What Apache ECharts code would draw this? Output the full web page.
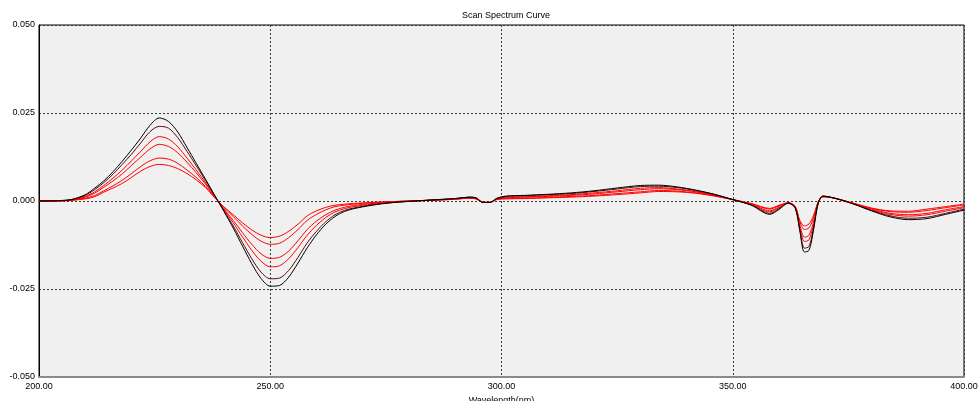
<!DOCTYPE html>
<html>
<head>
<meta charset="utf-8">
<title>Scan Spectrum Curve</title>
<script src="https://cdn.jsdelivr.net/npm/echarts@6/dist/echarts.min.js"></script>
<style>
  html, body { margin: 0; padding: 0; background: #fff; }
  #chart { width: 979px; height: 401px; }
</style>
</head>
<body>
<div id="chart"></div>
<script>
// wavelength points (nm), denser around the sharp features
const wavelength = [200, 204, 207, 210, 212, 214, 216, 218, 220, 222, 224, 226, 228, 230, 232, 234, 236, 238,
  240, 242, 244, 246, 248, 250, 252, 254, 256, 258, 260, 262, 264, 266, 268, 272, 276, 280, 285, 290, 293, 294.5,
  296, 297.5, 299, 301, 305, 310, 315, 320, 325, 330, 334, 338, 342, 346, 350, 354, 358, 360, 362, 363.5, 364.5,
  365.5, 366.5, 367.5, 368.5, 369.5, 372, 376, 380, 384, 388, 392, 396, 400]

// six scans, from the largest amplitude (black) to the smallest (red)
const scan1 = [0, 0.0001, 0.0004, 0.0018, 0.0036, 0.0057, 0.0083, 0.0113, 0.0145, 0.0179, 0.0215, 0.0236, 0.0226,
  0.0196, 0.0152, 0.0107, 0.0062, 0.0016, -0.0030, -0.0077, -0.0128, -0.0178, -0.0220, -0.0242, -0.0240, -0.0216,
  -0.0176, -0.0133, -0.0096, -0.0066, -0.0044, -0.0030, -0.0022, -0.0012, -0.0005, -0.0001, 0.0003, 0.0007, 0.0011,
  0.0009, -0.0004, -0.0004, 0.0008, 0.0014, 0.0016, 0.0019, 0.0023, 0.0029, 0.0037, 0.0044, 0.0045, 0.0040, 0.0031,
  0.0019, 0.0004, -0.0012, -0.0038, -0.0024, -0.0006, -0.0020, -0.0085, -0.0145, -0.0140, -0.0080, -0.0005, 0.0014,
  0.0008, -0.0008, -0.0028, -0.0045, -0.0053, -0.0050, -0.0038, -0.0026]
const scan2 = [0, 0.0001, 0.0004, 0.0016, 0.0032, 0.0052, 0.0076, 0.0104, 0.0133, 0.0165, 0.0197, 0.0212, 0.0207,
  0.0180, 0.0141, 0.0100, 0.0058, 0.0015, -0.0028, -0.0071, -0.0118, -0.0164, -0.0202, -0.0221, -0.0219, -0.0197,
  -0.0160, -0.0119, -0.0086, -0.0059, -0.0039, -0.0027, -0.0020, -0.0011, -0.0005, -0.0001, 0.0003, 0.0007, 0.0011,
  0.0009, -0.0004, -0.0004, 0.0007, 0.0013, 0.0015, 0.0018, 0.0021, 0.0027, 0.0034, 0.0041, 0.0042, 0.0038, 0.0030,
  0.0019, 0.0004, -0.0011, -0.0035, -0.0022, -0.0006, -0.0019, -0.0081, -0.0134, -0.0129, -0.0074, -0.0005, 0.0014,
  0.0008, -0.0008, -0.0027, -0.0042, -0.0049, -0.0046, -0.0035, -0.0023]
const scan3 = [0, 0.0001, 0.0003, 0.0013, 0.0026, 0.0044, 0.0065, 0.0088, 0.0114, 0.0141, 0.0168, 0.0183, 0.0176,
  0.0154, 0.0122, 0.0088, 0.0052, 0.0013, -0.0025, -0.0062, -0.0102, -0.0140, -0.0171, -0.0187, -0.0184, -0.0164,
  -0.0132, -0.0097, -0.0069, -0.0047, -0.0031, -0.0022, -0.0016, -0.0009, -0.0004, -0.0001, 0.0003, 0.0006, 0.0010,
  0.0008, -0.0004, -0.0004, 0.0006, 0.0011, 0.0012, 0.0015, 0.0018, 0.0023, 0.0029, 0.0036, 0.0038, 0.0034, 0.0027,
  0.0017, 0.0004, -0.0010, -0.0031, -0.0019, -0.0006, -0.0018, -0.0073, -0.0115, -0.0110, -0.0064, -0.0004, 0.0013,
  0.0008, -0.0007, -0.0025, -0.0038, -0.0043, -0.0039, -0.0029, -0.0019]
const scan4 = [0, 0, 0.0003, 0.0011, 0.0022, 0.0039, 0.0057, 0.0077, 0.0101, 0.0125, 0.0148, 0.0161, 0.0155,
  0.0137, 0.0110, 0.0080, 0.0048, 0.0012, -0.0023, -0.0055, -0.0090, -0.0123, -0.0150, -0.0163, -0.0160, -0.0142,
  -0.0113, -0.0081, -0.0057, -0.0039, -0.0026, -0.0018, -0.0013, -0.0007, -0.0003, 0, 0.0002, 0.0006, 0.0009,
  0.0007, -0.0004, -0.0004, 0.0006, 0.0009, 0.0011, 0.0013, 0.0016, 0.0020, 0.0026, 0.0032, 0.0035, 0.0032, 0.0026,
  0.0016, 0.0004, -0.0009, -0.0028, -0.0017, -0.0005, -0.0017, -0.0068, -0.0103, -0.0097, -0.0057, -0.0003, 0.0013,
  0.0008, -0.0007, -0.0023, -0.0035, -0.0039, -0.0035, -0.0025, -0.0016]
const scan5 = [0, 0, 0.0002, 0.0008, 0.0015, 0.0029, 0.0043, 0.0059, 0.0078, 0.0098, 0.0114, 0.0122, 0.0119,
  0.0107, 0.0088, 0.0067, 0.0041, 0.0010, -0.0019, -0.0044, -0.0071, -0.0095, -0.0114, -0.0123, -0.0120, -0.0104,
  -0.0081, -0.0055, -0.0038, -0.0025, -0.0016, -0.0012, -0.0009, -0.0005, -0.0002, 0, 0.0002, 0.0005, 0.0008,
  0.0006, -0.0004, -0.0004, 0.0005, 0.0007, 0.0008, 0.0010, 0.0013, 0.0016, 0.0021, 0.0026, 0.0030, 0.0028, 0.0023,
  0.0015, 0.0004, -0.0008, -0.0023, -0.0014, -0.0005, -0.0016, -0.0059, -0.0081, -0.0076, -0.0046, -0.0002, 0.0012,
  0.0008, -0.0006, -0.0021, -0.0030, -0.0032, -0.0027, -0.0019, -0.0011]
const scan6 = [0, 0, 0.0002, 0.0006, 0.0012, 0.0025, 0.0037, 0.0050, 0.0067, 0.0085, 0.0098, 0.0104, 0.0101,
  0.0092, 0.0078, 0.0060, 0.0038, 0.0009, -0.0017, -0.0039, -0.0062, -0.0082, -0.0097, -0.0104, -0.0100, -0.0086,
  -0.0066, -0.0042, -0.0028, -0.0018, -0.0012, -0.0009, -0.0007, -0.0004, -0.0002, 0, 0.0002, 0.0005, 0.0008,
  0.0006, -0.0004, -0.0004, 0.0004, 0.0006, 0.0007, 0.0009, 0.0011, 0.0014, 0.0018, 0.0023, 0.0027, 0.0026, 0.0022,
  0.0014, 0.0004, -0.0007, -0.0021, -0.0012, -0.0005, -0.0015, -0.0055, -0.0071, -0.0065, -0.0040, -0.0002, 0.0012,
  0.0008, -0.0006, -0.0020, -0.0028, -0.0029, -0.0023, -0.0016, -0.0009]

const scans = [scan1, scan2, scan3, scan4, scan5, scan6]
const scanColors = ['#000000', '#5a0a0a', '#ff0000', '#ff0000', '#ff0000', '#ff0000']

const chart = echarts.init(document.getElementById('chart'), null, { renderer: 'canvas' })

const labelFont = {
  fontFamily: 'Liberation Sans, Arial, sans-serif',
  fontSize: 9,
  color: '#000',
}

const option = {
  animation: false,
  backgroundColor: '#ffffff',
  title: {
    text: 'Scan Spectrum Curve',
    left: 501,
    textAlign: 'center',
    top: 6,
    textStyle: {
      fontFamily: 'Liberation Sans, Arial, sans-serif',
      fontSize: 9,
      fontWeight: 'normal',
      color: '#000',
    },
  },
  grid: {
    left: 39,
    right: 15,
    top: 25,
    bottom: 24,
    outerBoundsMode: 'none',
    containLabel: false,
    show: true,
    backgroundColor: '#f0f0f0',
    borderColor: '#000',
    borderWidth: 1,
  },
  xAxis: {
    type: 'value',
    min: 200,
    max: 400,
    interval: 50,
    name: 'Wavelength(nm)',
    nameLocation: 'middle',
    nameGap: 17,
    nameTextStyle: labelFont,
    axisLine: { show: true, onZero: false, lineStyle: { color: '#8a8a8a', width: 2 } },
    axisTick: { show: false },
    axisLabel: {
      ...labelFont,
      margin: 5,
      formatter: (v) => v.toFixed(2),
    },
    splitLine: {
      show: true,
      lineStyle: { color: '#3c3c3c', type: [2, 2], width: 1 },
    },
  },
  yAxis: {
    type: 'value',
    min: -0.05,
    max: 0.05,
    interval: 0.025,
    axisLine: { show: true, onZero: false, lineStyle: { color: '#000', width: 1 } },
    axisTick: { show: false },
    axisLabel: {
      ...labelFont,
      margin: 4,
      formatter: (v) => v.toFixed(3),
    },
    splitLine: {
      show: true,
      lineStyle: { color: '#3c3c3c', type: [2, 2], width: 1 },
    },
  },
  series: scans.map((vals, i) => ({
    name: 'Scan ' + (i + 1),
    type: 'line',
    showSymbol: false,
    smooth: 0.3,
    z: 10 - i,
    lineStyle: { color: scanColors[i], width: 1 },
    data: wavelength.map((w, k) => [w, vals[k]]),
  })),
}

chart.setOption(option)
</script>
</body>
</html>
